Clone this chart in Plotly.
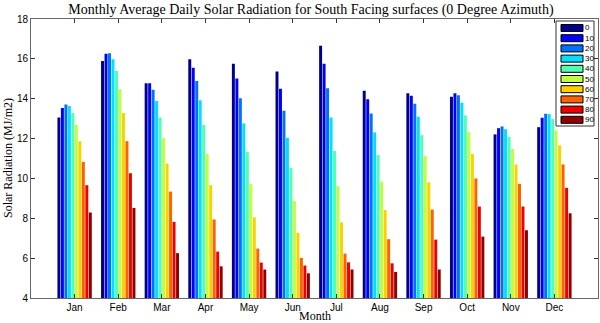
import plotly.graph_objects as go

months = ["Jan", "Feb", "Mar", "Apr", "May", "Jun", "Jul", "Aug", "Sep", "Oct", "Nov", "Dec"]
tilts = ["0", "10", "20", "30", "40", "50", "60", "70", "80", "90"]

# Values per tilt angle (MJ/m2), one per month
tilt_0 = [13.06, 15.89, 14.77, 15.98, 15.75, 15.37, 16.66, 14.40, 14.28, 14.10, 12.21, 12.57]
tilt_10 = [13.53, 16.26, 14.77, 15.55, 15.02, 14.50, 15.75, 13.97, 14.15, 14.28, 12.52, 13.04]
tilt_20 = [13.71, 16.28, 14.45, 14.89, 14.02, 13.39, 14.53, 13.26, 13.75, 14.17, 12.61, 13.24]
tilt_30 = [13.63, 15.98, 13.88, 13.92, 12.76, 12.04, 13.06, 12.31, 13.09, 13.80, 12.47, 13.23]
tilt_40 = [13.28, 15.39, 13.06, 12.68, 11.32, 10.52, 11.38, 11.17, 12.17, 13.16, 12.09, 12.98]
tilt_50 = [12.68, 14.48, 12.02, 11.23, 9.71, 8.86, 9.61, 9.85, 11.12, 12.32, 11.48, 12.41]
tilt_60 = [11.87, 13.28, 10.75, 9.66, 8.05, 7.27, 7.80, 8.41, 9.81, 11.23, 10.70, 11.66]
tilt_70 = [10.83, 11.87, 9.34, 7.94, 6.48, 6.01, 6.23, 6.95, 8.44, 10.00, 9.73, 10.70]
tilt_80 = [9.66, 10.26, 7.82, 6.33, 5.78, 5.63, 5.79, 5.74, 6.93, 8.59, 8.59, 9.53]
tilt_90 = [8.29, 8.52, 6.25, 5.59, 5.43, 5.24, 5.43, 5.31, 5.43, 7.08, 7.40, 8.25]

series = [tilt_0, tilt_10, tilt_20, tilt_30, tilt_40, tilt_50, tilt_60, tilt_70, tilt_80, tilt_90]

colors = ["rgb(0,0,143)", "rgb(0,0,255)", "rgb(0,112,255)", "rgb(0,223,255)",
          "rgb(80,255,175)", "rgb(191,255,64)", "rgb(255,207,0)", "rgb(255,96,0)",
          "rgb(239,0,0)", "rgb(143,0,0)"]

x_pos = list(range(1, 13))

fig = go.Figure()
for name, vals, col in zip(tilts, series, colors):
    fig.add_trace(go.Bar(
        x=x_pos, y=vals, name=name,
        marker=dict(color=col, line=dict(width=0)),
        showlegend=False,
    ))

# Plot area in pixels
L, R, T, B = 31, 598, 19, 298
W, H = 600, 323

def px(xp):
    return (xp - L) / (R - L)

def py(yp):
    return (B - yp) / (B - T)

shapes = []
annotations = []
# legend box
shapes.append(dict(type="rect", xref="paper", yref="paper",
                   x0=px(556), x1=px(594), y0=py(126), y1=py(21),
                   fillcolor="white", line=dict(color="#333", width=1), layer="above"))
for i, (name, col) in enumerate(zip(tilts, colors)):
    cy = 28 + i * 10.2
    shapes.append(dict(type="rect", xref="paper", yref="paper",
                       x0=px(561), x1=px(583), y0=py(cy + 3.5), y1=py(cy - 3.5),
                       fillcolor=col, line=dict(color="black", width=1), layer="above"))
    annotations.append(dict(xref="paper", yref="paper", x=px(583.5), y=py(cy),
                            text=name, showarrow=False, xanchor="left", yanchor="middle",
                            borderpad=0,
                            font=dict(family="Liberation Sans, Arial", size=8, color="black")))

# axis titles
annotations.append(dict(xref="paper", yref="paper", x=px(315), y=py(315.5),
                        text="Month", showarrow=False, xanchor="center", yanchor="middle",
                        borderpad=0,
                        font=dict(family="Liberation Serif, Times New Roman", size=12, color="black")))
annotations.append(dict(xref="paper", yref="paper", x=px(8), y=py(158),
                        text="Solar Radiation (MJ/m2)", showarrow=False, textangle=-90,
                        xanchor="center", yanchor="middle",
                        font=dict(family="Liberation Serif, Times New Roman", size=12, color="black")))

fig.update_layout(
    width=W, height=H,
    margin=dict(l=L, r=W - R, t=T, b=H - B, pad=0, autoexpand=False),
    paper_bgcolor="white", plot_bgcolor="white",
    barmode="group", bargap=0.2, bargroupgap=0.15,
    title=dict(text="Monthly Average Daily Solar Radiation for South Facing surfaces (0 Degree Azimuth)",
               x=311 / W, xanchor="center", y=1 - 9 / H, yanchor="middle",
               font=dict(family="Liberation Serif, Times New Roman", size=14, color="black")),
    xaxis=dict(range=[0, 13], tickvals=x_pos, ticktext=months, automargin=False,
               ticks="inside", ticklen=4, tickcolor="#333", mirror="ticks",
               showline=True, linecolor="#666", linewidth=1, showgrid=False, zeroline=False,
               tickfont=dict(family="Liberation Sans, Arial", size=10, color="black")),
    yaxis=dict(range=[4, 18], dtick=2, tick0=4, automargin=False,
               ticks="inside", ticklen=4, tickcolor="#333", mirror="ticks",
               showline=True, linecolor="#666", linewidth=1, showgrid=False, zeroline=False,
               tickfont=dict(family="Liberation Sans, Arial", size=10, color="black")),
    shapes=shapes,
    annotations=annotations,
    font=dict(family="Liberation Sans, Arial", color="black"),
)

fig.write_html("out.html", config={"displayModeBar": False},
               post_script="document.body.style.margin='0';document.body.style.overflow='hidden';")
